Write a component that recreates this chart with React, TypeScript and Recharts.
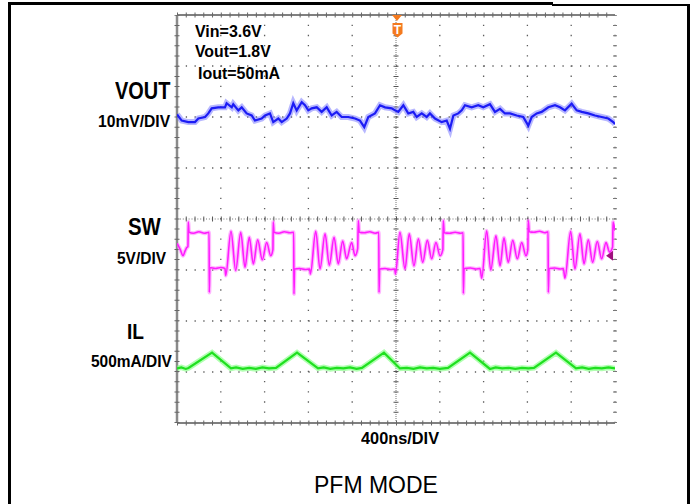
import React from "react";
import { LineChart, Line, XAxis, YAxis, ReferenceLine, ReferenceDot } from "recharts";

// time in ns (400ns/DIV), amplitude in screen divisions (0 = bottom graticule)
const TIME_GRID = [400, 800, 1200, 1600, 2400, 2800, 3200, 3600, 4000];
const DIV_GRID = [1, 2, 3, 5, 6, 7];

const VOUT: [number, number][] = [
  [0, 6.05], [43, 5.93], [103, 5.9], [164, 5.9], [195, 5.97], [256, 6.0], [286, 6.07],
  [317, 6.17], [377, 6.19], [438, 6.19], [453, 6.27], [500, 6.19], [514, 6.25], [560, 6.13],
  [591, 6.19], [636, 6.07], [682, 6.03], [712, 5.93], [773, 5.97], [804, 6.03], [849, 6.07],
  [879, 5.9], [925, 5.97], [956, 5.9], [1002, 5.97], [1032, 6.07], [1062, 6.27], [1093, 6.13],
  [1139, 6.29], [1169, 6.23], [1199, 6.13], [1230, 6.17], [1276, 6.19], [1321, 6.1],
  [1367, 6.19], [1413, 6.03], [1458, 6.1], [1504, 6.0], [1564, 6.0], [1626, 5.97], [1671, 5.93],
  [1710, 5.8], [1747, 6.0], [1808, 6.07], [1854, 6.23], [1900, 6.19], [1961, 6.17],
  [1991, 6.13], [2021, 6.1], [2067, 6.23], [2112, 6.07], [2158, 6.1], [2189, 6.0], [2235, 6.07],
  [2280, 6.0], [2310, 6.07], [2356, 5.97], [2417, 5.9], [2463, 5.93], [2493, 5.77], [2524, 6.03],
  [2569, 6.07], [2600, 6.13], [2630, 6.23], [2691, 6.19], [2751, 6.23], [2797, 6.19],
  [2858, 6.25], [2904, 6.1], [2950, 6.16], [2995, 6.07], [3041, 6.07], [3102, 6.03],
  [3162, 6.0], [3208, 5.83], [3239, 6.0], [3285, 6.07], [3330, 6.1], [3391, 6.19], [3452, 6.23],
  [3498, 6.19], [3543, 6.13], [3604, 6.26], [3650, 6.13], [3696, 6.1], [3756, 6.07],
  [3817, 6.03], [3878, 6.0], [3939, 5.97], [3984, 5.9], [4000, 5.86],
];

const SW: [number, number][] = [
  [0, 3.52], [30, 3.4], [55, 3.28], [75, 3.38], [89, 3.44], [100, 3.46], [103, 3.94], [110, 3.74],
  [150, 3.72], [200, 3.75], [250, 3.72], [293, 3.74], [295, 2.56], [300, 3.05], [350, 3.03],
  [400, 3.05], [438, 3.03], [445, 2.89], [493, 3.76], [536, 2.99], [582, 3.74], [621, 3.05],
  [660, 3.64], [697, 3.12], [737, 3.59], [779, 3.2], [819, 3.54], [856, 3.28], [876, 3.4],
  [879, 3.94], [886, 3.74], [930, 3.72], [980, 3.75], [1030, 3.73], [1066, 3.74], [1068, 2.53],
  [1074, 3.02], [1120, 3.03], [1170, 3.01], [1212, 3.02], [1218, 2.92], [1267, 3.76],
  [1306, 3.02], [1352, 3.71], [1391, 3.09], [1434, 3.64], [1473, 3.12], [1513, 3.57],
  [1549, 3.22], [1595, 3.54], [1626, 3.28], [1650, 3.42], [1656, 3.97], [1664, 3.74],
  [1710, 3.73], [1760, 3.75], [1810, 3.72], [1843, 3.74], [1845, 2.56], [1851, 3.02],
  [1900, 3.03], [1950, 3.01], [1988, 3.02], [1995, 2.92], [2036, 3.74], [2082, 3.02],
  [2121, 3.71], [2164, 3.08], [2204, 3.61], [2244, 3.15], [2286, 3.58], [2326, 3.22],
  [2365, 3.54], [2402, 3.28], [2428, 3.4], [2432, 3.97], [2440, 3.73], [2490, 3.72],
  [2540, 3.74], [2590, 3.72], [2613, 3.73], [2615, 2.54], [2622, 3.03], [2680, 3.04],
  [2730, 3.02], [2767, 3.03], [2783, 2.84], [2828, 3.77], [2865, 3.0], [2913, 3.67],
  [2950, 3.08], [2986, 3.63], [3025, 3.15], [3066, 3.58], [3108, 3.22], [3148, 3.54],
  [3187, 3.28], [3204, 3.4], [3208, 3.97], [3217, 3.75], [3260, 3.74], [3310, 3.76],
  [3360, 3.73], [3389, 3.75], [3391, 2.56], [3398, 3.03], [3450, 3.04], [3500, 3.02],
  [3528, 3.03], [3543, 2.84], [3595, 3.76], [3634, 3.02], [3680, 3.71], [3717, 3.12],
  [3756, 3.59], [3796, 3.15], [3838, 3.56], [3878, 3.22], [3918, 3.54], [3950, 3.35],
  [3978, 3.45], [3982, 3.94], [4000, 3.77],
];

const IL: [number, number][] = [
  [0, 1.07], [40, 1.09], [80, 1.06], [105, 1.08], [320, 1.38], [493, 1.07], [540, 1.09],
  [600, 1.06], [660, 1.08], [720, 1.06], [780, 1.09], [840, 1.07], [904, 1.08], [1096, 1.38],
  [1288, 1.07], [1340, 1.09], [1400, 1.06], [1460, 1.08], [1520, 1.07], [1580, 1.09],
  [1640, 1.06], [1689, 1.08], [1890, 1.38], [2036, 1.07], [2100, 1.08], [2160, 1.06],
  [2220, 1.09], [2280, 1.07], [2340, 1.08], [2400, 1.06], [2475, 1.08], [2676, 1.38],
  [2858, 1.06], [2910, 1.09], [2970, 1.07], [3030, 1.08], [3090, 1.06], [3150, 1.08],
  [3210, 1.07], [3260, 1.08], [3461, 1.38], [3644, 1.07], [3700, 1.09], [3760, 1.06],
  [3820, 1.08], [3880, 1.07], [3940, 1.09], [4000, 1.07],
];

const toRows = (pts: [number, number][]) => pts.map(([t, v]) => ({ t, v }));

const Label = ({ text, left, top, size, sx = 1, bold = true }: any) => (
  <div
    style={{
      position: "absolute",
      left,
      top,
      fontSize: size,
      lineHeight: 1,
      fontWeight: bold ? "bold" : "normal",
      fontFamily: "'Liberation Sans', Arial, sans-serif",
      whiteSpace: "nowrap",
      color: "#000",
      transform: `scaleX(${sx})`,
      transformOrigin: "left top",
    }}
  >
    {text}
  </div>
);

const GRID = "#5e5e5e";

export default function App() {
  const vout = toRows(VOUT);
  const sw = toRows(SW);
  const il = toRows(IL);

  return (
    <div style={{ position: "fixed", left: 0, top: 0, width: 693, height: 504, background: "#fff", overflow: "hidden" }}>
      {/* outer frame */}
      <div style={{ position: "absolute", left: 8, top: 2, width: 545, height: 3, background: "#000" }} />
      <div style={{ position: "absolute", left: 552, top: 4, width: 138, height: 2, background: "#000" }} />
      <div style={{ position: "absolute", left: 8, top: 2, width: 3, height: 502, background: "#000" }} />
      <div style={{ position: "absolute", left: 687, top: 4, width: 3, height: 500, background: "#000" }} />

      <div style={{ position: "absolute", left: 0, top: 0 }}>
        <LineChart width={693} height={504} margin={{ top: 15, right: 78, bottom: 81, left: 177 }}>
          <XAxis type="number" dataKey="t" domain={[0, 4000]} hide allowDataOverflow />
          <YAxis type="number" domain={[0, 8]} hide allowDataOverflow />

          {/* dotted graticule */}
          {TIME_GRID.map((t) => (
            <ReferenceLine key={"vx" + t} x={t} stroke={GRID} strokeWidth={1.3} strokeDasharray="1.3 8.88" ifOverflow="visible" />
          ))}
          {DIV_GRID.map((v) => (
            <ReferenceLine key={"hy" + v} y={v} stroke={GRID} strokeWidth={1.3} strokeDasharray="1.3 7.46" ifOverflow="visible" />
          ))}

          {/* centre axes with minor ticks */}
          <ReferenceLine x={2000} stroke="#777" strokeWidth={1} strokeDasharray="1 1" ifOverflow="visible" />
          <ReferenceLine x={2000} stroke="#555" strokeWidth={5} strokeDasharray="1 9.18" ifOverflow="visible" />
          <ReferenceLine y={4} stroke="#777" strokeWidth={1} strokeDasharray="1 1.9" ifOverflow="visible" />
          <ReferenceLine y={4} stroke="#555" strokeWidth={5} strokeDasharray="1 7.76" ifOverflow="visible" />

          {/* frame edges */}
          <ReferenceLine y={8} stroke="#808080" strokeWidth={2} ifOverflow="visible" />
          <ReferenceLine y={8} stroke="#666" strokeWidth={5} strokeDasharray="1 7.76" ifOverflow="visible" />
          <ReferenceLine y={0} stroke="#808080" strokeWidth={2} ifOverflow="visible" />
          <ReferenceLine y={0} stroke="#666" strokeWidth={5} strokeDasharray="1 7.76" ifOverflow="visible" />
          <ReferenceLine x={0} stroke="#8a8a8a" strokeWidth={2.5} ifOverflow="visible" />
          <ReferenceLine x={0} stroke="#666" strokeWidth={5} strokeDasharray="1 9.18" ifOverflow="visible" />
          <ReferenceLine x={4000} stroke="#777" strokeWidth={4} strokeDasharray="1 9.18" ifOverflow="visible" />

          {/* traces: soft halo + core */}
          <Line data={vout} dataKey="v" type="linear" stroke="#7070ff" strokeOpacity={0.5} strokeWidth={6} dot={false} isAnimationActive={false} />
          <Line data={vout} dataKey="v" type="linear" stroke="#1c1cf5" strokeWidth={2.2} dot={false} isAnimationActive={false} />
          <Line data={sw} dataKey="v" type="monotone" stroke="#ff7dff" strokeOpacity={0.55} strokeWidth={4} dot={false} isAnimationActive={false} />
          <Line data={sw} dataKey="v" type="monotone" stroke="#ff1cff" strokeWidth={1.6} dot={false} isAnimationActive={false} />
          <Line data={il} dataKey="v" type="linear" stroke="#7cff7c" strokeOpacity={0.6} strokeWidth={5.5} dot={false} isAnimationActive={false} />
          <Line data={il} dataKey="v" type="linear" stroke="#1fe01f" strokeWidth={2.2} dot={false} isAnimationActive={false} />

          {/* channel 2 level marker */}
          <ReferenceDot
            x={3955}
            y={3.28}
            ifOverflow="visible"
            shape={(p: any) => (
              <polygon
                points={`${p.cx - 4},${p.cy} ${p.cx + 3},${p.cy - 5} ${p.cx + 3},${p.cy + 5}`}
                fill="#a0107f"
              />
            )}
          />
        </LineChart>
      </div>

      {/* trigger flag */}
      <svg width={693} height={504} style={{ position: "absolute", left: 0, top: 0, pointerEvents: "none" }}>
        <polygon points="392,15 402,15 397,21" fill="#f47a1f" />
        <path d="M392.5,23 h10 v10.5 l-5,4 l-5,-4 z" fill="#f47a1f" />
        <text x={397.5} y={33.5} textAnchor="middle" fill="#fff" fontSize={12} fontWeight="bold" fontFamily="'Liberation Sans', Arial">T</text>
      </svg>

      <Label text="Vin=3.6V" left={195} top={23} size={17} sx={0.94} />
      <Label text="Vout=1.8V" left={195} top={43} size={17} sx={0.93} />
      <Label text="Iout=50mA" left={198} top={65} size={17} sx={0.94} />

      <Label text="VOUT" left={115} top={79} size={24} sx={0.83} />
      <Label text="10mV/DIV" left={98} top={113} size={17} sx={0.92} />
      <Label text="SW" left={128} top={215} size={24} sx={0.85} />
      <Label text="5V/DIV" left={117} top={250} size={17} sx={0.91} />
      <Label text="IL" left={127} top={321} size={22} sx={0.87} />
      <Label text="500mA/DIV" left={91} top={353} size={17} sx={0.91} />

      <Label text="400ns/DIV" left={361} top={430} size={17} sx={0.96} />
      <Label text="PFM MODE" left={314} top={474} size={23} bold={false} />
    </div>
  );
}
